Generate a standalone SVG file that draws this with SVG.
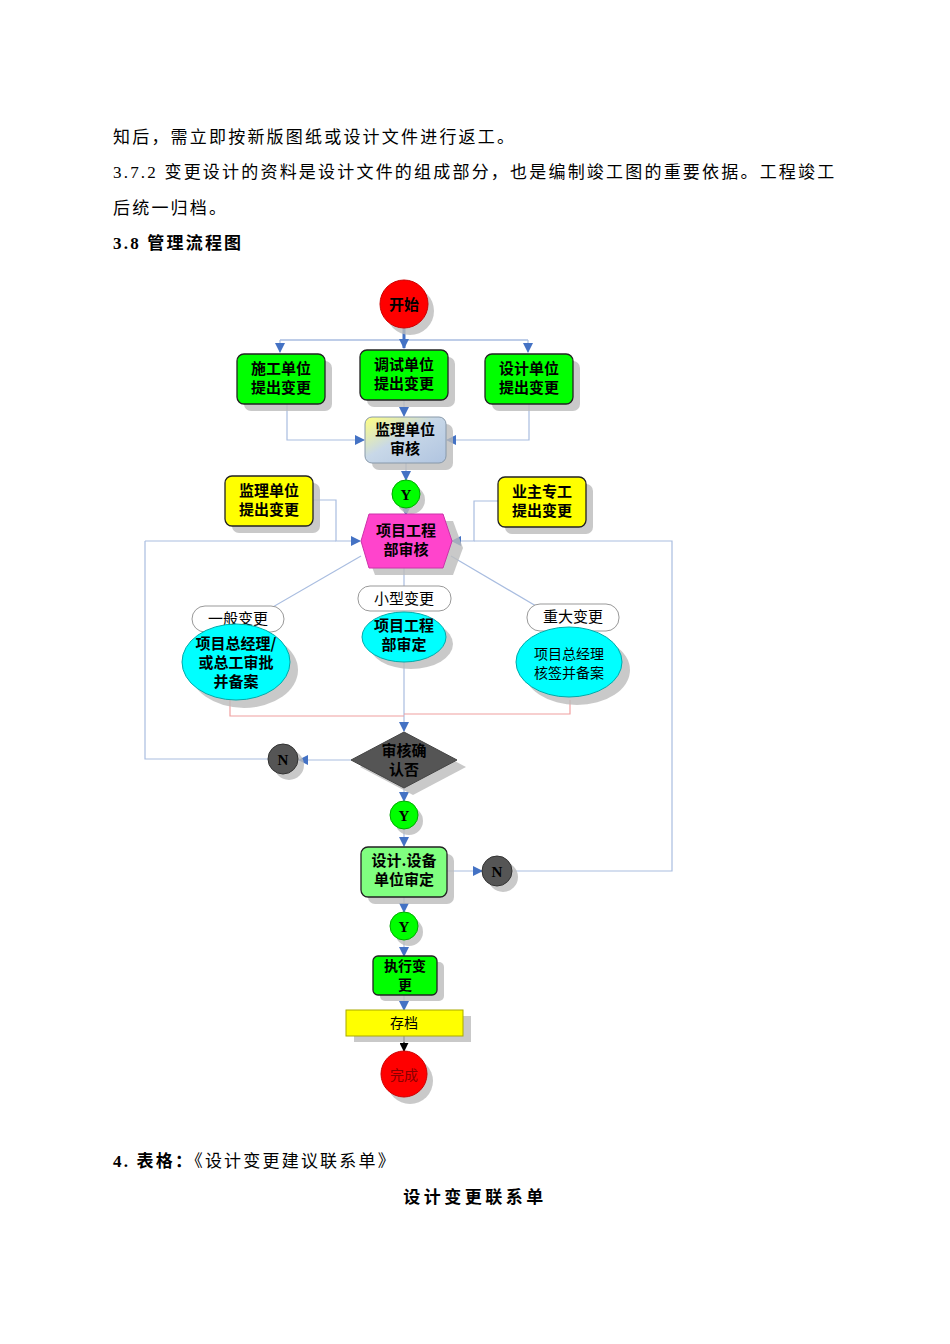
<svg xmlns="http://www.w3.org/2000/svg" width="950" height="1344" viewBox="0 0 950 1344">
<style>
.body{font-family:"Liberation Serif","Noto Sans CJK SC",serif;font-size:17px;fill:#000;letter-spacing:2.2px}
.n{font-family:"Noto Sans CJK SC",sans-serif;font-size:15px;font-weight:bold;fill:#000;text-anchor:middle}
.nr{font-family:"Noto Sans CJK SC",sans-serif;font-size:14px;fill:#000;text-anchor:middle}
.sh{fill:#bbb;opacity:.8}
.ln{fill:none;stroke:#a9bde0;stroke-width:1.2}
.rl{fill:none;stroke:#f0a0a0;stroke-width:1.2}
.bd{stroke:#222;stroke-width:1.3}
</style>
<defs>
<marker id="a" viewBox="0 0 10 10" refX="9" refY="5" markerUnits="userSpaceOnUse" markerWidth="10" markerHeight="10" orient="auto"><path d="M0,0L10,5L0,10z" fill="#4472c4"/></marker>
<marker id="ab" viewBox="0 0 10 10" refX="9" refY="5" markerUnits="userSpaceOnUse" markerWidth="9" markerHeight="9" orient="auto"><path d="M0,0L10,5L0,10z" fill="#000"/></marker>
<linearGradient id="g" x1="0" y1="0" x2="1" y2="1"><stop offset="0" stop-color="#ffff80"/><stop offset=".45" stop-color="#c8d8e8"/><stop offset="1" stop-color="#b0c4e0"/></linearGradient>
</defs>
<text class="body" x="113" y="143">知后，需立即按新版图纸或设计文件进行返工。</text>
<text class="body" x="113" y="178">3.7.2 变更设计的资料是设计文件的组成部分，也是编制竣工图的重要依据。工程竣工</text>
<text class="body" x="113" y="214">后统一归档。</text>
<text class="body" x="113" y="249" font-weight="bold">3.8 管理流程图</text>

<g id="connectors">
<path class="ln" d="M280,340H528" style="stroke-width:1.5"/>
<path class="ln" d="M280,340V352" marker-end="url(#a)"/>
<path class="ln" d="M528,340V352" marker-end="url(#a)"/>
<path d="M404,328V348" stroke="#4472c4" stroke-width="3" marker-end="url(#a)"/>
<path class="ln" d="M404,400V416" marker-end="url(#a)"/>
<path class="ln" d="M287,404V440H364" marker-end="url(#a)"/>
<path class="ln" d="M529,404V440H447" marker-end="url(#a)"/>
<path class="ln" d="M406,463V480" marker-end="url(#a)"/>
<path class="ln" d="M406,508V515" marker-end="url(#a)"/>
<path class="ln" d="M313,500H336V541H360" marker-end="url(#a)"/>
<path class="ln" d="M498,501H474V541H452" marker-end="url(#a)"/>
<path class="ln" d="M145,541H336"/>
<path class="ln" d="M474,541H672V871H514"/>
<path class="ln" d="M145,541V759H268"/>
<path class="ln" d="M361,556L240,626" marker-end="url(#a)"/>
<path class="ln" d="M451,556L570,626" marker-end="url(#a)"/>
<path class="ln" d="M404,568V607" marker-end="url(#a)"/>
<path class="ln" d="M404,662V731" marker-end="url(#a)"/>
<path class="rl" d="M230,700V716H404M570,700V714H404"/>
<path class="ln" d="M351,760H299" marker-end="url(#a)"/>
<path class="ln" d="M404,788V801" marker-end="url(#a)"/>
<path class="ln" d="M404,829V846" marker-end="url(#a)"/>
<path class="ln" d="M447,871H482" marker-end="url(#a)"/>
<path class="ln" d="M404,897V912" marker-end="url(#a)"/>
<path class="ln" d="M404,940V956" marker-end="url(#a)"/>
<path class="ln" d="M404,995V1010" marker-end="url(#a)"/>
<path d="M404,1036V1051" stroke="#000" stroke-width="1.2" marker-end="url(#ab)"/>
</g>

<g id="start"><circle class="sh" cx="410" cy="311" r="24"/><circle cx="404" cy="304" r="24" fill="#ff0000" stroke="#c00"/><text class="n" x="404" y="310">开始</text></g>
<g id="sg"><rect class="sh" x="244" y="361" width="88" height="50" rx="7"/><rect class="bd" x="237" y="354" width="88" height="50" rx="7" fill="#00ff00"/><text class="n" x="281" y="374">施工单位</text><text class="n" x="281" y="393">提出变更</text></g>
<g id="ts"><rect class="sh" x="367" y="357" width="88" height="50" rx="7"/><rect class="bd" x="360" y="350" width="88" height="50" rx="7" fill="#00ff00"/><text class="n" x="404" y="370">调试单位</text><text class="n" x="404" y="389">提出变更</text></g>
<g id="sj"><rect class="sh" x="492" y="361" width="88" height="50" rx="7"/><rect class="bd" x="485" y="354" width="88" height="50" rx="7" fill="#00ff00"/><text class="n" x="529" y="374">设计单位</text><text class="n" x="529" y="393">提出变更</text></g>
<g id="jl"><rect class="sh" x="372" y="424" width="81" height="46" rx="7"/><rect x="365" y="417" width="81" height="46" rx="7" fill="url(#g)" stroke="#8899aa"/><text class="n" x="405" y="435">监理单位</text><text class="n" x="405" y="454">审核</text></g>
<g id="y1"><circle class="sh" cx="411" cy="500" r="14"/><circle cx="406" cy="494" r="14" fill="#00ff00" stroke="#0a0"/><text class="n" x="406" y="500" style="font-family:'Liberation Serif',serif">Y</text></g>
<g id="jl2"><rect class="sh" x="232" y="483" width="88" height="50" rx="7"/><rect class="bd" x="225" y="476" width="88" height="50" rx="7" fill="#ffff00"/><text class="n" x="269" y="496">监理单位</text><text class="n" x="269" y="515">提出变更</text></g>
<g id="yz"><rect class="sh" x="505" y="484" width="88" height="50" rx="7"/><rect class="bd" x="498" y="477" width="88" height="50" rx="7" fill="#ffff00"/><text class="n" x="542" y="497">业主专工</text><text class="n" x="542" y="516">提出变更</text></g>
<g id="xm"><polygon class="sh" points="375,521 453,521 463,548 453,575 375,575 365,548"/><polygon points="369,514 443,514 452,541 443,568 369,568 361,541" fill="#ff44cc" stroke="#c3a"/><text class="n" x="406" y="536">项目工程</text><text class="n" x="406" y="555">部审核</text></g>
<g id="yb"><rect x="192" y="606" width="92" height="26" rx="13" fill="#fff" stroke="#999"/><text class="n" x="238" y="624" style="font-weight:normal">一般变更</text></g>
<g id="xx"><rect x="358" y="586" width="93" height="25" rx="12" fill="#fff" stroke="#999"/><text class="n" x="404" y="604" style="font-weight:normal">小型变更</text></g>
<g id="zd"><rect x="527" y="604" width="92" height="27" rx="13" fill="#fff" stroke="#999"/><text class="n" x="573" y="622" style="font-weight:normal">重大变更</text></g>
<g id="e1"><ellipse class="sh" cx="244" cy="670" rx="54" ry="38"/><ellipse cx="236" cy="662" rx="54" ry="38" fill="#00ffff" stroke="#0aa"/><text class="n" x="236" y="649">项目总经理/</text><text class="n" x="236" y="668">或总工审批</text><text class="n" x="236" y="687">并备案</text></g>
<g id="e2"><ellipse class="sh" cx="411" cy="644" rx="42" ry="25"/><ellipse cx="404" cy="637" rx="42" ry="25" fill="#00ffff" stroke="#0aa"/><text class="n" x="404" y="631">项目工程</text><text class="n" x="404" y="650">部审定</text></g>
<g id="e3"><ellipse class="sh" cx="577" cy="670" rx="53" ry="35"/><ellipse cx="569" cy="662" rx="53" ry="35" fill="#00ffff" stroke="#0aa"/><text class="nr" x="569" y="659">项目总经理</text><text class="nr" x="569" y="678">核签并备案</text></g>
<g id="dm"><polygon class="sh" points="413,739 466,767 413,795 360,767"/><polygon points="404,732 457,760 404,788 351,760" fill="#555" stroke="#444"/><text class="n" x="404" y="756">审核确</text><text class="n" x="404" y="775">认否</text></g>
<g id="n1"><circle class="sh" cx="289" cy="765" r="15"/><circle cx="283" cy="759" r="15" fill="#555" stroke="#333"/><text class="n" x="283" y="765" style="font-family:'Liberation Serif',serif">N</text></g>
<g id="y2"><circle class="sh" cx="409" cy="821" r="14"/><circle cx="404" cy="815" r="14" fill="#00ff00" stroke="#0a0"/><text class="n" x="404" y="821" style="font-family:'Liberation Serif',serif">Y</text></g>
<g id="sd"><rect class="sh" x="368" y="854" width="86" height="50" rx="7"/><rect class="bd" x="361" y="847" width="86" height="50" rx="7" fill="#80ff80"/><text class="n" x="404" y="866">设计.设备</text><text class="n" x="404" y="885">单位审定</text></g>
<g id="n2"><circle class="sh" cx="503" cy="877" r="15"/><circle cx="497" cy="871" r="15" fill="#555" stroke="#333"/><text class="n" x="497" y="877" style="font-family:'Liberation Serif',serif">N</text></g>
<g id="y3"><circle class="sh" cx="409" cy="932" r="14"/><circle cx="404" cy="926" r="14" fill="#00ff00" stroke="#0a0"/><text class="n" x="404" y="932" style="font-family:'Liberation Serif',serif">Y</text></g>
<g id="zx"><rect class="sh" x="380" y="962" width="64" height="39" rx="5"/><rect class="bd" x="373" y="956" width="64" height="39" rx="5" fill="#00ff00"/><text class="n" x="405" y="971" style="font-size:14px">执行变</text><text class="n" x="405" y="990" style="font-size:14px">更</text></g>
<g id="cd"><rect class="sh" x="354" y="1016" width="117" height="26"/><rect x="346" y="1010" width="117" height="26" fill="#ffff00" stroke="#aa0"/><text class="nr" x="404" y="1028">存档</text></g>
<g id="end"><circle class="sh" cx="410" cy="1081" r="23"/><circle cx="404" cy="1074" r="23" fill="#ff0000" stroke="#c00"/><text class="nr" x="404" y="1080" style="fill:#800">完成</text></g>

<text class="body" x="113" y="1167"><tspan font-weight="bold">4. 表格：</tspan>《设计变更建议联系单》</text>
<text class="body" x="475" y="1203" text-anchor="middle" font-size="21" font-weight="bold" style="letter-spacing:3.5px">设计变更联系单</text>
</svg>
